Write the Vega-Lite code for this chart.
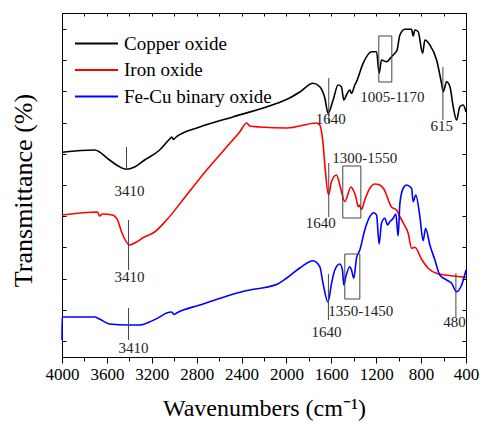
{
  "$schema": "https://vega.github.io/schema/vega-lite/v6.json",
  "autosize": "none",
  "width": 404,
  "height": 344,
  "padding": {"left": 62, "top": 13, "right": 14, "bottom": 68},
  "config": {
    "font": "Liberation Serif",
    "view": {"stroke": "black", "strokeWidth": 1},
    "axis": {"grid": false, "domainColor": "black", "tickColor": "black", "labelColor": "black", "titleColor": "black", "titleFontWeight": "normal"}
  },
  "datasets": {
    "spectra": [
      {"s":"Copper oxide","w":4000,"t":204.7},{"s":"Copper oxide","w":3710,"t":207},{"s":"Copper oxide","w":3576,"t":197},{"s":"Copper oxide","w":3500,"t":191},{"s":"Copper oxide","w":3427,"t":187.7},{"s":"Copper oxide","w":3353,"t":190},{"s":"Copper oxide","w":3264,"t":197},{"s":"Copper oxide","w":3130,"t":207},{"s":"Copper oxide","w":3041,"t":218},{"s":"Copper oxide","w":3023,"t":220},{"s":"Copper oxide","w":3005,"t":217.5},{"s":"Copper oxide","w":2988,"t":219.5},{"s":"Copper oxide","w":2773,"t":230},{"s":"Copper oxide","w":2479,"t":240},{"s":"Copper oxide","w":2078,"t":254},{"s":"Copper oxide","w":1971,"t":259},{"s":"Copper oxide","w":1881,"t":265},{"s":"Copper oxide","w":1763,"t":273.7},{"s":"Copper oxide","w":1703,"t":270.3},{"s":"Copper oxide","w":1658,"t":259},{"s":"Copper oxide","w":1629,"t":243.7},{"s":"Copper oxide","w":1584,"t":257},{"s":"Copper oxide","w":1540,"t":272},{"s":"Copper oxide","w":1510,"t":270.3},{"s":"Copper oxide","w":1489,"t":257},{"s":"Copper oxide","w":1465,"t":262},{"s":"Copper oxide","w":1435,"t":267},{"s":"Copper oxide","w":1420,"t":263.7},{"s":"Copper oxide","w":1391,"t":272},{"s":"Copper oxide","w":1376,"t":275.3},{"s":"Copper oxide","w":1317,"t":293.7},{"s":"Copper oxide","w":1242,"t":305.3},{"s":"Copper oxide","w":1197,"t":305.3},{"s":"Copper oxide","w":1174,"t":283.7},{"s":"Copper oxide","w":1153,"t":297},{"s":"Copper oxide","w":1108,"t":295.3},{"s":"Copper oxide","w":1064,"t":300.3},{"s":"Copper oxide","w":1034,"t":303.7},{"s":"Copper oxide","w":1014,"t":307},{"s":"Copper oxide","w":989,"t":322},{"s":"Copper oxide","w":945,"t":327.7},{"s":"Copper oxide","w":885,"t":327.7},{"s":"Copper oxide","w":871,"t":321},{"s":"Copper oxide","w":856,"t":327},{"s":"Copper oxide","w":826,"t":325.3},{"s":"Copper oxide","w":787,"t":303.7},{"s":"Copper oxide","w":766,"t":317},{"s":"Copper oxide","w":722,"t":312},{"s":"Copper oxide","w":662,"t":297},{"s":"Copper oxide","w":618,"t":273.7},{"s":"Copper oxide","w":603,"t":265.3},{"s":"Copper oxide","w":573,"t":275.3},{"s":"Copper oxide","w":543,"t":270.3},{"s":"Copper oxide","w":514,"t":250.3},{"s":"Copper oxide","w":484,"t":237},{"s":"Copper oxide","w":455,"t":250.3},{"s":"Copper oxide","w":425,"t":252},{"s":"Copper oxide","w":400,"t":245},
      {"s":"Iron oxide","w":4000,"t":142},{"s":"Iron oxide","w":3683,"t":145},{"s":"Iron oxide","w":3666,"t":141},{"s":"Iron oxide","w":3639,"t":143},{"s":"Iron oxide","w":3550,"t":142},{"s":"Iron oxide","w":3505,"t":137},{"s":"Iron oxide","w":3469,"t":125},{"s":"Iron oxide","w":3398,"t":112},{"s":"Iron oxide","w":3336,"t":115},{"s":"Iron oxide","w":3282,"t":119},{"s":"Iron oxide","w":3175,"t":125},{"s":"Iron oxide","w":3068,"t":137},{"s":"Iron oxide","w":2889,"t":162},{"s":"Iron oxide","w":2711,"t":187},{"s":"Iron oxide","w":2533,"t":210},{"s":"Iron oxide","w":2417,"t":225},{"s":"Iron oxide","w":2354,"t":234},{"s":"Iron oxide","w":2327,"t":231},{"s":"Iron oxide","w":2238,"t":230},{"s":"Iron oxide","w":1997,"t":229},{"s":"Iron oxide","w":1730,"t":234},{"s":"Iron oxide","w":1703,"t":232},{"s":"Iron oxide","w":1674,"t":213.7},{"s":"Iron oxide","w":1654,"t":187},{"s":"Iron oxide","w":1625,"t":162},{"s":"Iron oxide","w":1599,"t":175.3},{"s":"Iron oxide","w":1554,"t":182},{"s":"Iron oxide","w":1520,"t":170},{"s":"Iron oxide","w":1480,"t":155.5},{"s":"Iron oxide","w":1425,"t":170},{"s":"Iron oxide","w":1405,"t":167},{"s":"Iron oxide","w":1382,"t":160.3},{"s":"Iron oxide","w":1360,"t":150.3},{"s":"Iron oxide","w":1350,"t":152},{"s":"Iron oxide","w":1331,"t":147.7},{"s":"Iron oxide","w":1302,"t":157},{"s":"Iron oxide","w":1257,"t":168.7},{"s":"Iron oxide","w":1212,"t":173},{"s":"Iron oxide","w":1168,"t":172},{"s":"Iron oxide","w":1132,"t":168},{"s":"Iron oxide","w":1064,"t":150},{"s":"Iron oxide","w":1019,"t":147},{"s":"Iron oxide","w":989,"t":140.3},{"s":"Iron oxide","w":954,"t":133},{"s":"Iron oxide","w":915,"t":123.7},{"s":"Iron oxide","w":885,"t":108.7},{"s":"Iron oxide","w":856,"t":109.7},{"s":"Iron oxide","w":796,"t":97.7},{"s":"Iron oxide","w":737,"t":88.7},{"s":"Iron oxide","w":662,"t":83.7},{"s":"Iron oxide","w":514,"t":81},{"s":"Iron oxide","w":400,"t":79.7},
      {"s":"Fe-Cu binary oxide","w":4000,"t":17},{"s":"Fe-Cu binary oxide","w":3999,"t":40},{"s":"Fe-Cu binary oxide","w":3710,"t":40},{"s":"Fe-Cu binary oxide","w":3666,"t":38},{"s":"Fe-Cu binary oxide","w":3576,"t":33},{"s":"Fe-Cu binary oxide","w":3416,"t":32},{"s":"Fe-Cu binary oxide","w":3309,"t":32},{"s":"Fe-Cu binary oxide","w":3220,"t":35},{"s":"Fe-Cu binary oxide","w":3130,"t":40},{"s":"Fe-Cu binary oxide","w":3068,"t":44},{"s":"Fe-Cu binary oxide","w":3023,"t":45},{"s":"Fe-Cu binary oxide","w":3001,"t":42.5},{"s":"Fe-Cu binary oxide","w":2979,"t":44},{"s":"Fe-Cu binary oxide","w":2773,"t":52},{"s":"Fe-Cu binary oxide","w":2372,"t":66},{"s":"Fe-Cu binary oxide","w":2078,"t":73},{"s":"Fe-Cu binary oxide","w":1997,"t":79},{"s":"Fe-Cu binary oxide","w":1881,"t":89},{"s":"Fe-Cu binary oxide","w":1763,"t":96.3},{"s":"Fe-Cu binary oxide","w":1703,"t":90.3},{"s":"Fe-Cu binary oxide","w":1674,"t":73.7},{"s":"Fe-Cu binary oxide","w":1630,"t":55},{"s":"Fe-Cu binary oxide","w":1598,"t":73.7},{"s":"Fe-Cu binary oxide","w":1569,"t":87},{"s":"Fe-Cu binary oxide","w":1525,"t":93},{"s":"Fe-Cu binary oxide","w":1501,"t":87},{"s":"Fe-Cu binary oxide","w":1489,"t":72},{"s":"Fe-Cu binary oxide","w":1471,"t":80.3},{"s":"Fe-Cu binary oxide","w":1435,"t":90.3},{"s":"Fe-Cu binary oxide","w":1420,"t":87},{"s":"Fe-Cu binary oxide","w":1400,"t":78.7},{"s":"Fe-Cu binary oxide","w":1376,"t":98.7},{"s":"Fe-Cu binary oxide","w":1346,"t":107},{"s":"Fe-Cu binary oxide","w":1302,"t":127},{"s":"Fe-Cu binary oxide","w":1257,"t":140.3},{"s":"Fe-Cu binary oxide","w":1221,"t":144.3},{"s":"Fe-Cu binary oxide","w":1197,"t":142},{"s":"Fe-Cu binary oxide","w":1174,"t":113},{"s":"Fe-Cu binary oxide","w":1153,"t":133.7},{"s":"Fe-Cu binary oxide","w":1123,"t":138.7},{"s":"Fe-Cu binary oxide","w":1099,"t":132},{"s":"Fe-Cu binary oxide","w":1079,"t":135.3},{"s":"Fe-Cu binary oxide","w":1049,"t":138.7},{"s":"Fe-Cu binary oxide","w":1025,"t":143},{"s":"Fe-Cu binary oxide","w":1005,"t":121},{"s":"Fe-Cu binary oxide","w":989,"t":153.7},{"s":"Fe-Cu binary oxide","w":960,"t":168.7},{"s":"Fe-Cu binary oxide","w":930,"t":172},{"s":"Fe-Cu binary oxide","w":885,"t":168.7},{"s":"Fe-Cu binary oxide","w":871,"t":155.3},{"s":"Fe-Cu binary oxide","w":847,"t":162},{"s":"Fe-Cu binary oxide","w":811,"t":140.3},{"s":"Fe-Cu binary oxide","w":782,"t":116.3},{"s":"Fe-Cu binary oxide","w":760,"t":128.7},{"s":"Fe-Cu binary oxide","w":722,"t":112},{"s":"Fe-Cu binary oxide","w":677,"t":97},{"s":"Fe-Cu binary oxide","w":633,"t":82},{"s":"Fe-Cu binary oxide","w":573,"t":77},{"s":"Fe-Cu binary oxide","w":528,"t":73.7},{"s":"Fe-Cu binary oxide","w":484,"t":65.3},{"s":"Fe-Cu binary oxide","w":439,"t":72},{"s":"Fe-Cu binary oxide","w":400,"t":87}
    ],
    "marks": [
      {"w":3425,"t1":187,"t2":210},{"w":3407,"t1":87,"t2":137},{"w":3407,"t1":17,"t2":49},
      {"w":1623,"t1":234,"t2":279},{"w":1623,"t1":140,"t2":194},{"w":1626,"t1":37,"t2":83},
      {"w":606,"t1":237,"t2":290},{"w":490,"t1":40,"t2":84}
    ],
    "boxes": [
      {"w1":1177,"w2":1061,"t1":275,"t2":321},
      {"w1":1498,"w2":1337,"t1":139,"t2":191},
      {"w1":1480,"w2":1346,"t1":58,"t2":103}
    ],
    "labels": [
      {"label":"3410","w":3398,"t":166.3},{"label":"3410","w":3398,"t":80},{"label":"3410","w":3362,"t":9},
      {"label":"1640","w":1605,"t":238},{"label":"1640","w":1694,"t":133.7},{"label":"1640","w":1643,"t":25.3},
      {"label":"1005-1170","w":1056,"t":260.3},{"label":"615","w":617,"t":231},
      {"label":"1300-1550","w":1302,"t":198.7},{"label":"1350-1450","w":1337,"t":46},{"label":"480","w":502,"t":35}
    ]
  },
  "layer": [
    {
      "data": {"name": "spectra"},
      "mark": {"type": "line", "strokeWidth": 1.6, "interpolate": "monotone"},
      "encoding": {
        "x": {"field": "w", "type": "quantitative",
          "scale": {"domain": [400, 4000], "reverse": true, "nice": false, "zero": false},
          "axis": {"orient": "bottom", "values": [4000,3800,3600,3400,3200,3000,2800,2600,2400,2200,2000,1800,1600,1400,1200,1000,800,600,400],
            "labelExpr": "datum.value % 400 === 0 ? datum.label : ''", "format": "d",
            "tickSize": {"condition": {"test": "datum.value % 400 === 0", "value": 6}, "value": 4},
            "labelFontSize": 17, "labelPadding": 3, "labelFlush": false, "labelOverlap": false,
            "title": "Wavenumbers (cm⁻¹)", "titleFontSize": 24, "titlePadding": 14}},
        "y": {"field": "t", "type": "quantitative",
          "scale": {"domain": [0, 344], "nice": false, "zero": false},
          "axis": {"orient": "left", "values": [16,47.2,78.4,109.6,140.8,172,203.2,234.4,265.6,296.8,328],
            "labels": false, "tickSize": -4, "title": "Transmittance (%)", "titleFontSize": 26,
            "titleAngle": -90, "titleX": -39, "titleY": 177, "titleAlign": "center", "titleBaseline": "middle"}},
        "color": {"field": "s", "type": "nominal",
          "scale": {"domain": ["Copper oxide", "Iron oxide", "Fe-Cu binary oxide"], "range": ["#000000", "#ff0000", "#0000ff"]},
          "legend": {"title": null, "orient": "none", "legendX": 12, "legendY": 21, "symbolType": "stroke", "symbolSize": 1849,
            "symbolStrokeWidth": 2, "labelFont": "Liberation Serif", "labelFontSize": 19, "labelColor": "black",
            "labelOffset": 5, "rowPadding": 6.5, "clipHeight": 19, "padding": 0}}
      }
    },
    {
      "data": {"name": "marks"},
      "mark": {"type": "rule", "color": "#444", "strokeWidth": 1},
      "encoding": {
        "x": {"field": "w", "type": "quantitative",
          "axis": {"orient": "top", "values": [4000,3800,3600,3400,3200,3000,2800,2600,2400,2200,2000,1800,1600,1400,1200,1000,800,600,400], "labels": false, "tickSize": -3, "title": null}},
        "y": {"field": "t1", "type": "quantitative",
          "axis": {"orient": "right", "values": [16,47.2,78.4,109.6,140.8,172,203.2,234.4,265.6,296.8,328], "labels": false, "tickSize": -4, "title": null}},
        "y2": {"field": "t2"}
      }
    },
    {
      "data": {"name": "boxes"},
      "mark": {"type": "rect", "filled": false, "stroke": "#444", "strokeWidth": 1},
      "encoding": {
        "x": {"field": "w1", "type": "quantitative", "axis": null},
        "x2": {"field": "w2"},
        "y": {"field": "t1", "type": "quantitative", "axis": null},
        "y2": {"field": "t2"}
      }
    },
    {
      "data": {"name": "labels"},
      "mark": {"type": "text", "font": "Liberation Serif", "fontSize": 15, "color": "#222", "align": "center", "baseline": "middle"},
      "encoding": {
        "x": {"field": "w", "type": "quantitative", "axis": null},
        "y": {"field": "t", "type": "quantitative", "axis": null},
        "text": {"field": "label"}
      }
    }
  ],
  "resolve": {"axis": {"x": "independent", "y": "independent"}}
}
